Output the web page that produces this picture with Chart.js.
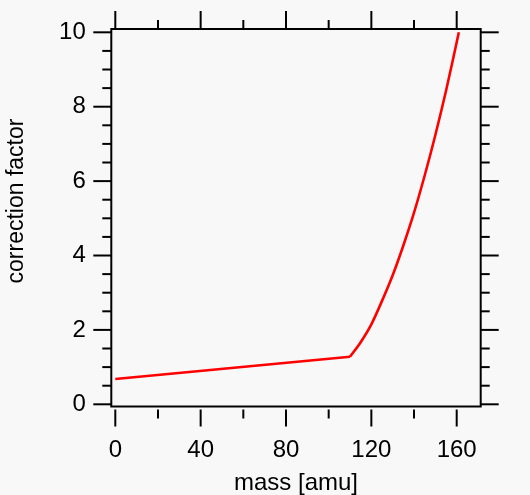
<!DOCTYPE html>
<html>
<head>
<meta charset="utf-8">
<script src="https://cdn.jsdelivr.net/npm/chart.js"></script>
<style>
html, body { margin: 0; padding: 0; background: #f8f8f8; }
#wrap { width: 530px; height: 495px; }
</style>
</head>
<body>
<div id="wrap"><canvas id="c" width="530" height="495"></canvas></div>
<script>
// Data
const massValues = [0, 110, 115, 120, 125, 130, 135, 140, 145, 150, 155, 158, 161];
const correctionValues = [0.68, 1.28, 1.67, 2.15, 2.78, 3.47, 4.27, 5.15, 6.15, 7.24, 8.43, 9.2, 10.0];
const kinkIndex = 1; // straight segment up to here, smooth curve after
const xTickLabels = [0, 40, 80, 120, 160];
const xMinorTicks = [20, 60, 100, 140];
const yTickLabels = [0, 2, 4, 6, 8, 10];
const yMinorTicks = [0.5, 1, 1.5, 2.5, 3, 3.5, 4.5, 5, 5.5, 6.5, 7, 7.5, 8.5, 9, 9.5];
const xTitle = 'mass [amu]';
const yTitle = 'correction factor';

const FONT = 'Liberation Sans, Arial, Helvetica, sans-serif';
Chart.defaults.color = '#000';

const pts = massValues.map((m, i) => ({ x: m, y: correctionValues[i] }));

const frameTicks = {
  id: 'frameTicks',
  afterDraw(chart) {
    const { ctx, chartArea: a, scales: { x, y } } = chart;
    ctx.save();
    ctx.strokeStyle = '#000';
    ctx.lineWidth = 2;
    const seg = (x1, y1, x2, y2) => { ctx.beginPath(); ctx.moveTo(x1, y1); ctx.lineTo(x2, y2); ctx.stroke(); };
    ctx.strokeRect(a.left, a.top, a.right - a.left, a.bottom - a.top);
    xTickLabels.forEach(v => {
      const px = x.getPixelForValue(v);
      seg(px, a.top, px, a.top - 18);
      seg(px, a.bottom + 3, px, a.bottom + 20);
    });
    xMinorTicks.forEach(v => {
      const px = x.getPixelForValue(v);
      seg(px, a.top, px, a.top - 9);
      seg(px, a.bottom + 3, px, a.bottom + 12);
    });
    yTickLabels.forEach(v => {
      const py = y.getPixelForValue(v);
      seg(a.left, py, a.left - 18, py);
      seg(a.right, py, a.right + 18, py);
    });
    yMinorTicks.forEach(v => {
      const py = y.getPixelForValue(v);
      seg(a.left, py, a.left - 9, py);
      seg(a.right, py, a.right + 9, py);
    });
    // y-axis title
    ctx.fillStyle = '#000';
    ctx.font = '23px ' + FONT;
    ctx.textAlign = 'center';
    ctx.textBaseline = 'middle';
    ctx.translate(17, 201);
    ctx.rotate(-Math.PI / 2);
    ctx.fillText(yTitle, 0, 0);
    ctx.restore();
  }
};

new Chart(document.getElementById('c'), {
  type: 'scatter',
  data: {
    datasets: [{
      data: pts.slice(0, kinkIndex + 1),
      showLine: true,
      borderColor: '#ff0000',
      borderWidth: 2.6,
      pointRadius: 0,
      tension: 0
    }, {
      data: pts.slice(kinkIndex),
      showLine: true,
      borderColor: '#ff0000',
      borderWidth: 2.6,
      pointRadius: 0,
      cubicInterpolationMode: 'monotone'
    }]
  },
  options: {
    responsive: false,
    animation: false,
    layout: { padding: { left: 0, top: 29, right: 49.3, bottom: 0 } },
    plugins: { legend: { display: false }, tooltip: { enabled: false } },
    scales: {
      x: {
        type: 'linear',
        position: 'bottom',
        min: -1.875,
        max: 171.25,
        grid: { display: false, drawTicks: false },
        border: { display: false },
        afterBuildTicks: s => { s.ticks = xTickLabels.map(v => ({ value: v })); },
        afterFit: s => { s.height = 88.5; s.paddingLeft = 0; s.paddingRight = 0; },
        ticks: { font: { family: FONT, size: 24 }, padding: 29, maxRotation: 0, autoSkip: false },
        title: { display: true, text: xTitle, font: { family: FONT, size: 24, lineHeight: 1 }, padding: { top: 0, bottom: 0 } }
      },
      y: {
        type: 'linear',
        position: 'left',
        min: -0.059,
        max: 10.089,
        grid: { display: false, drawTicks: false },
        border: { display: false },
        afterBuildTicks: s => { s.ticks = yTickLabels.map(v => ({ value: v })); },
        afterFit: s => { s.width = 111.3; s.paddingTop = 0; s.paddingBottom = 0; },
        ticks: { font: { family: FONT, size: 24 }, padding: 25.5, autoSkip: false },
        title: { display: false }
      }
    }
  },
  plugins: [frameTicks]
});
</script>
</body>
</html>
